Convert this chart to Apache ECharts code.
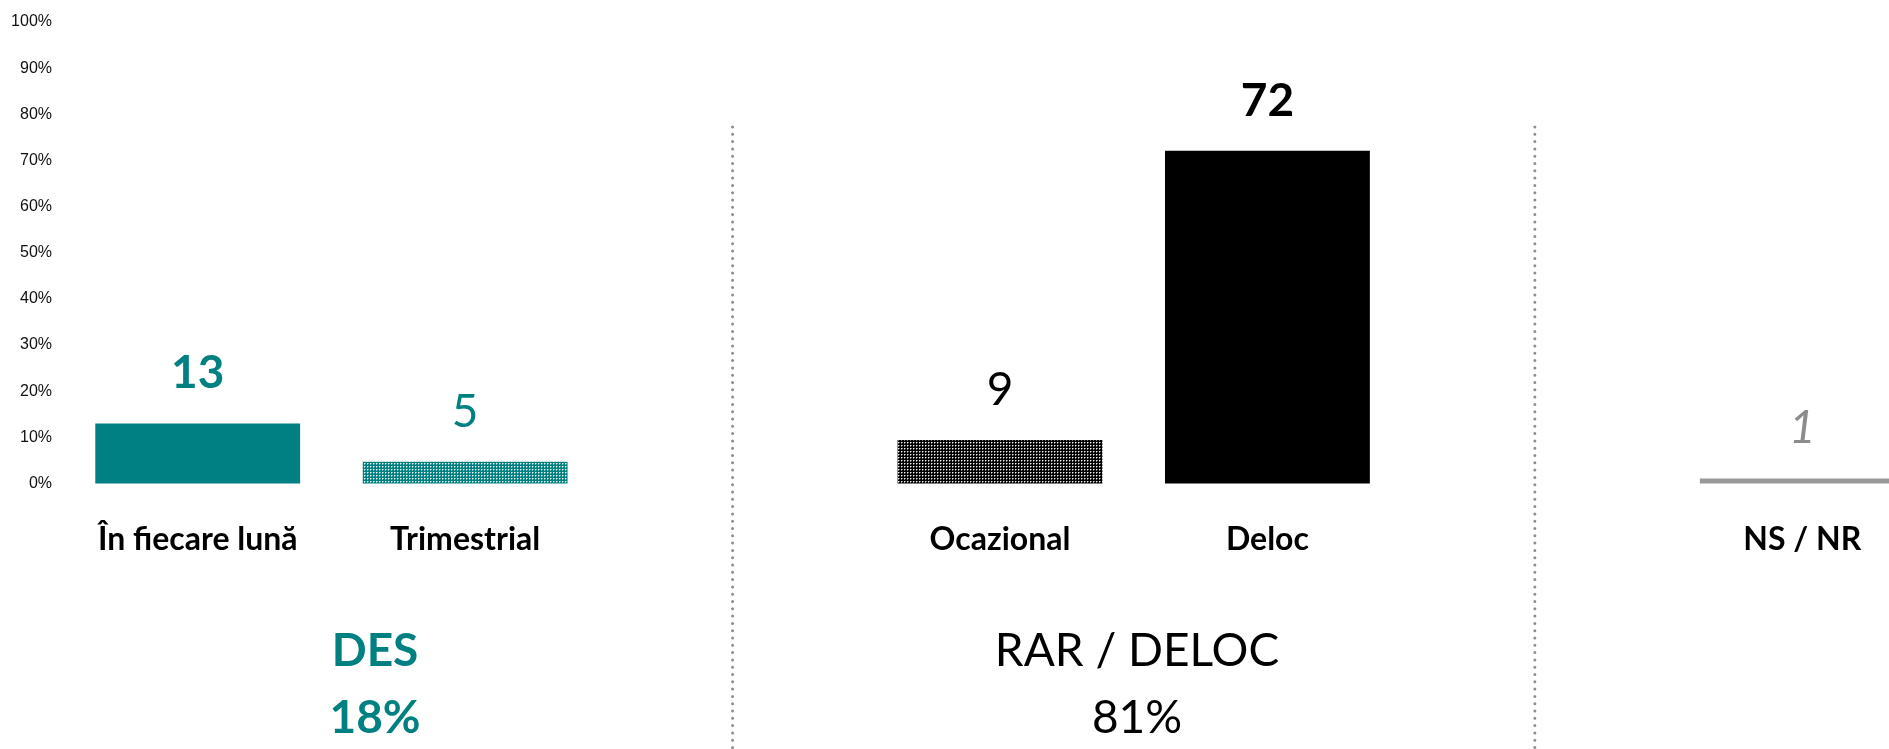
<!DOCTYPE html>
<html>
<head>
<meta charset="utf-8">
<script src="https://cdn.jsdelivr.net/npm/echarts@6/dist/echarts.min.js"></script>
<style>
  html, body { margin: 0; padding: 0; background: #fff; }
  #chart { width: 1889px; height: 749px; }
</style>
</head>
<body>
<div id="chart"></div>
<script>
// categories (empty slots are the gaps between the groups)
var categories = ['În fiecare lună', 'Trimestrial', '', 'Ocazional', 'Deloc', '', 'NS / NR'];
// bar heights in %
var values = [13, 4.7, null, 9.4, 72.1, null, 1.1];
var yTicks = [0, 10, 20, 30, 40, 50, 60, 70, 80, 90, 100];
var groupNames = ['DES', 'RAR / DELOC'];
var groupTotals = ['18%', '81%'];
var separatorAt = [2, 5];

var TEAL = '#008080';

function dotPattern(bg) {
  var c = document.createElement('canvas');
  c.width = 3; c.height = 3;
  var ctx = c.getContext('2d');
  ctx.fillStyle = bg;
  ctx.fillRect(0, 0, 3, 3);
  ctx.fillStyle = 'rgba(255,255,255,0.95)';
  ctx.fillRect(1, 1, 1, 1);
  ctx.fillStyle = 'rgba(255,255,255,0.45)';
  ctx.fillRect(2, 1, 1, 1);
  ctx.fillRect(1, 2, 1, 1);
  return { image: c, repeat: 'repeat' };
}

var barColors = [TEAL, dotPattern(TEAL), null, dotPattern('#000'), '#000', null, '#999999'];
var labelStyles = [
  { color: TEAL, fontWeight: 'bold', fontStyle: 'normal' },
  { color: TEAL, fontWeight: 'normal', fontStyle: 'normal' },
  null,
  { color: '#000', fontWeight: 'normal', fontStyle: 'normal' },
  { color: '#000', fontWeight: 'bold', fontStyle: 'normal' },
  null,
  { color: '#8c8c8c', fontWeight: 'normal', fontStyle: 'italic' }
];

var mychart = echarts.init(document.getElementById('chart'));

mychart.setOption({
  backgroundColor: '#fff',
  animation: false,
  grid: {
    left: 64,
    top: 22,
    width: 1872,
    height: 461.5,
    containLabel: false,
    outerBoundsMode: 'none'
  },
  xAxis: {
    type: 'category',
    data: categories,
    axisLine: { show: false },
    axisTick: { show: false },
    axisLabel: {
      interval: 0,
      margin: 40,
      fontFamily: 'Lato',
      fontWeight: 'bold',
      fontSize: 32,
      color: '#000'
    }
  },
  yAxis: {
    type: 'value',
    min: yTicks[0],
    max: yTicks[yTicks.length - 1],
    interval: yTicks[1] - yTicks[0],
    splitLine: { show: false },
    axisLine: { show: false },
    axisTick: { show: false },
    axisLabel: {
      formatter: '{value}%',
      margin: 12,
      fontFamily: 'Liberation Sans',
      fontSize: 16,
      color: '#111'
    }
  },
  series: [{
    type: 'bar',
    barWidth: '76.6%',
    data: values.map(function (v, i) {
      if (v == null) return null;
      return {
        value: v,
        itemStyle: { color: barColors[i] },
        label: labelStyles[i]
      };
    }),
    label: {
      show: true,
      position: 'top',
      distance: 27,
      fontFamily: 'Lato',
      fontSize: 46,
      formatter: function (p) { return Math.round(p.value); }
    }
  }]
});

// dotted separators and group totals, placed through the category axis
var graphics = [];
separatorAt.forEach(function (idx) {
  var x = mychart.convertToPixel({ xAxisIndex: 0 }, idx);
  graphics.push({
    type: 'line',
    shape: { x1: x, y1: 127, x2: x, y2: 749 },
    style: { stroke: '#8e8e8e', lineWidth: 3, lineCap: 'round', lineDash: [0, 7.3] },
    silent: true
  });
});

var groupX = [375, 1137];
var groupStyle = [
  { fill: TEAL, fontWeight: 'bold' },
  { fill: '#000', fontWeight: 'normal' }
];
groupNames.forEach(function (name, i) {
  [name, groupTotals[i]].forEach(function (t, k) {
    graphics.push({
      type: 'text',
      x: groupX[i],
      y: k === 0 ? 651 : 718,
      style: {
        text: t,
        fill: groupStyle[i].fill,
        fontFamily: 'Lato',
        fontWeight: groupStyle[i].fontWeight,
        fontSize: 46,
        align: 'center',
        verticalAlign: 'middle'
      },
      silent: true
    });
  });
});

mychart.setOption({ graphic: graphics });
</script>
</body>
</html>
